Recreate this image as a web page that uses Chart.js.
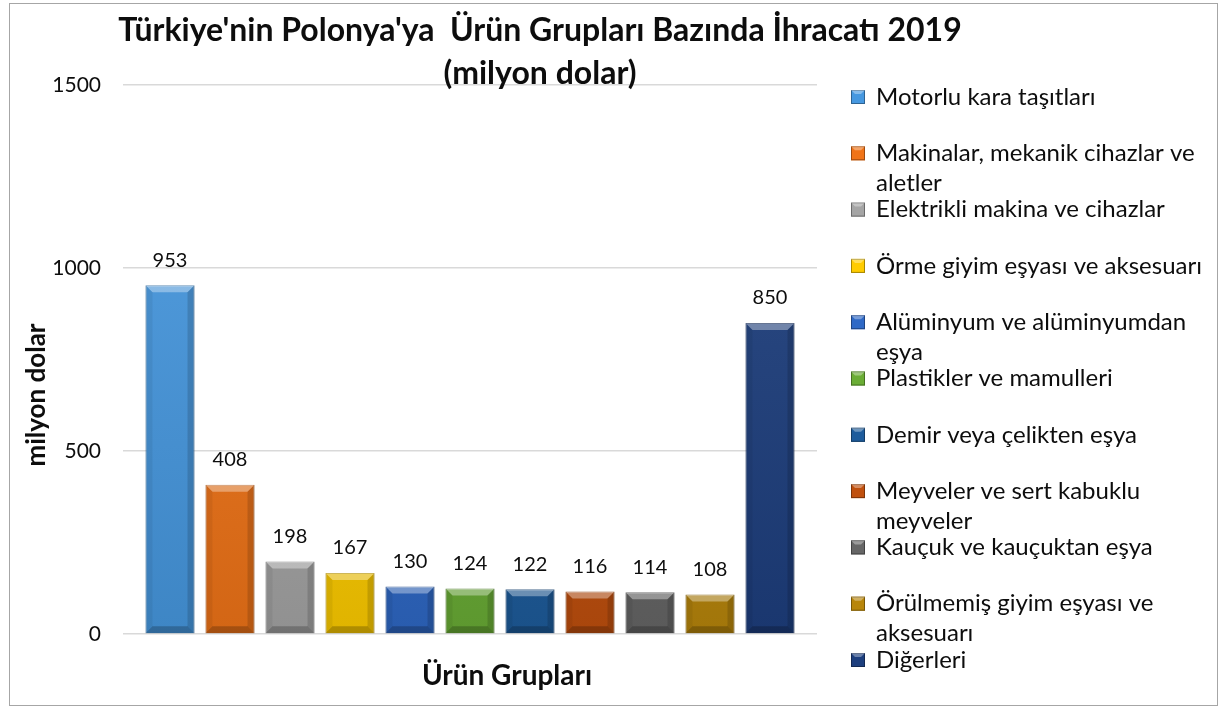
<!DOCTYPE html>
<html lang="tr">
<head>
<meta charset="utf-8">
<title>Türkiye'nin Polonya'ya Ürün Grupları Bazında İhracatı 2019</title>
<script src="https://cdn.jsdelivr.net/npm/chart.js@4.4.1/dist/chart.umd.min.js"></script>
<style>
  html, body { margin: 0; padding: 0; background: #fff; }
  #wrap { width: 1223px; height: 706px; position: relative; }
</style>
</head>
<body>
<div id="wrap"><canvas id="chart"></canvas></div>
<script>
// ─── veri ─────────────────────────────────────────────
const TITLE_LINES = ["Türkiye'nin Polonya'ya  Ürün Grupları Bazında İhracatı 2019", '(milyon dolar)'];
const Y_TITLE = 'milyon dolar';
const X_TITLE = 'Ürün Grupları';
const Y_TICKS = [0, 500, 1000, 1500];

const GROUPS = [
  'Motorlu kara taşıtları',
  'Makinalar, mekanik cihazlar ve aletler',
  'Elektrikli makina ve cihazlar',
  'Örme giyim eşyası ve aksesuarı',
  'Alüminyum ve alüminyumdan eşya',
  'Plastikler ve mamulleri',
  'Demir veya çelikten eşya',
  'Meyveler ve sert kabuklu meyveler',
  'Kauçuk ve kauçuktan eşya',
  'Örülmemiş giyim eşyası ve aksesuarı',
  'Diğerleri'
];
const VALUES = [953, 408, 198, 167, 130, 124, 122, 116, 114, 108, 850];
const COLORS = [
  '#4698e0', '#f07418', '#a5a5a5', '#ffcc00', '#2f69c6', '#6aad35',
  '#1e5c9c', '#c0500e', '#666666', '#b8860b', '#1d3f7e'
];

// ─── stil ─────────────────────────────────────────────
const FONT = 'Lato, "Open Sans", sans-serif';
const INK = '#0d0d0d';

function shade(hex, amt) {
  const n = parseInt(hex.slice(1), 16);
  const r = (n >> 16) & 255, g = (n >> 8) & 255, b = n & 255;
  const f = v => Math.max(0, Math.min(255, Math.round(amt > 0 ? v + (255 - v) * amt : v * (1 + amt))));
  return `rgb(${f(r)},${f(g)},${f(b)})`;
}

function barGradient(color) {
  return (ctx) => {
    const area = ctx.chart.chartArea;
    if (!area) return color;
    const g = ctx.chart.ctx.createLinearGradient(0, area.top, 0, area.bottom);
    g.addColorStop(0, shade(color, 0.08));
    g.addColorStop(1, shade(color, -0.12));
    return g;
  };
}

// çubuk kenarlarına kabartma + değer etiketleri
const bevelPlugin = {
  id: 'bevel',
  afterDatasetsDraw(chart) {
    const c = chart.ctx;
    chart.data.datasets.forEach((ds, i) => {
      const meta = chart.getDatasetMeta(i);
      meta.data.forEach((bar, j) => {
        const { x, y, base, width } = bar.getProps(['x', 'y', 'base', 'width'], true);
        const l = x - width / 2, r = x + width / 2, t = y, b = base;
        const k = Math.min(7, (b - t) / 3);
        c.save();
        const poly = (pts, fill) => {
          c.beginPath();
          c.moveTo(pts[0][0], pts[0][1]);
          pts.slice(1).forEach(p => c.lineTo(p[0], p[1]));
          c.closePath();
          c.fillStyle = fill;
          c.fill();
        };
        poly([[l, t], [r, t], [r - k, t + k], [l + k, t + k]], 'rgba(255,255,255,0.35)');
        poly([[l, t], [l + k, t + k], [l + k, b - k], [l, b]], 'rgba(0,0,0,0.06)');
        poly([[r, t], [r - k, t + k], [r - k, b - k], [r, b]], 'rgba(0,0,0,0.14)');
        poly([[l, b], [l + k, b - k], [r - k, b - k], [r, b]], 'rgba(0,0,0,0.22)');
        c.fillStyle = INK;
        c.font = `20px ${FONT}`;
        c.textAlign = 'center';
        c.textBaseline = 'middle';
        c.fillText(String(ds.data[j]), x, t - 25);
        c.restore();
      });
    });
  }
};

// başlık, eksen başlıkları, gösterge ve çerçeve
const framePlugin = {
  id: 'frame',
  beforeDraw(chart) {
    const c = chart.ctx;
    c.save();
    c.strokeStyle = '#a6a6a6';
    c.lineWidth = 1;
    c.strokeRect(9.5, 3.5, chart.width - 15, chart.height - 4);
    c.restore();
  },
  afterDraw(chart) {
    const c = chart.ctx;
    const area = chart.chartArea;
    c.save();
    c.fillStyle = INK;
    c.textAlign = 'center';
    c.textBaseline = 'middle';
    c.font = `bold 32px ${FONT}`;
    TITLE_LINES.forEach((line, i) => c.fillText(line, 540, 31 + i * 43));

    c.font = `bold 28px ${FONT}`;
    c.fillText(X_TITLE, 507, 676);

    c.save();
    c.translate(37, 395);
    c.rotate(-Math.PI / 2);
    c.font = `bold 26px ${FONT}`;
    c.fillText(Y_TITLE, 0, 0);
    c.restore();

    // gösterge
    const lx = area.right + 34;
    const step = 56.3;
    c.font = `24px ${FONT}`;
    c.textAlign = 'left';
    chart.data.datasets.forEach((ds, i) => {
      const cy = area.top + 12 + i * step;
      c.fillStyle = ds.legendColor;
      c.fillRect(lx, cy - 7, 14, 14);
      c.strokeStyle = shade(ds.legendColor, -0.35);
      c.lineWidth = 1;
      c.strokeRect(lx + 0.5, cy - 6.5, 13, 13);
      c.fillStyle = 'rgba(255,255,255,0.35)';
      c.beginPath();
      c.moveTo(lx, cy - 7); c.lineTo(lx + 14, cy - 7); c.lineTo(lx + 10, cy - 3); c.lineTo(lx + 4, cy - 3);
      c.closePath(); c.fill();
      c.fillStyle = INK;
      wrap(c, ds.label, 345).forEach((ln, k) => c.fillText(ln, lx + 25, cy + k * 30));
    });
    c.restore();
  }
};

function wrap(c, text, maxW) {
  const words = text.split(' ');
  const lines = [];
  let cur = '';
  words.forEach(w => {
    const test = cur ? cur + ' ' + w : w;
    if (c.measureText(test).width > maxW && cur) { lines.push(cur); cur = w; }
    else cur = test;
  });
  if (cur) lines.push(cur);
  return lines;
}

new Chart(document.getElementById('chart'), {
  type: 'bar',
  data: {
    labels: [''],
    datasets: GROUPS.map((name, i) => ({
      label: name,
      data: [VALUES[i]],
      backgroundColor: barGradient(COLORS[i]),
      borderColor: shade(COLORS[i], -0.3),
      borderWidth: 1,
      legendColor: COLORS[i],
      categoryPercentage: 0.951,
      barPercentage: 0.817
    }))
  },
  options: {
    responsive: true,
    maintainAspectRatio: false,
    animation: false,
    layout: { padding: { top: 85, right: 406, bottom: 10, left: 10 } },
    plugins: {
      legend: { display: false },
      title: { display: false },
      tooltip: { enabled: false }
    },
    scales: {
      x: {
        grid: { display: false, drawTicks: false },
        border: { display: false },
        ticks: { display: false },
        afterFit: (s) => { s.height = 62; }
      },
      y: {
        min: Y_TICKS[0],
        max: Y_TICKS[Y_TICKS.length - 1],
        afterBuildTicks: (s) => { s.ticks = Y_TICKS.map(v => ({ value: v })); },
        grid: { color: '#d9d9d9', lineWidth: 1.5, drawTicks: false },
        border: { display: false },
        ticks: {
          color: INK, font: { size: 21, family: FONT }, padding: 22,
          callback: (v) => String(v)
        },
        afterFit: (s) => { s.width = 113; }
      }
    }
  },
  plugins: [bevelPlugin, framePlugin]
});
</script>
</body>
</html>
